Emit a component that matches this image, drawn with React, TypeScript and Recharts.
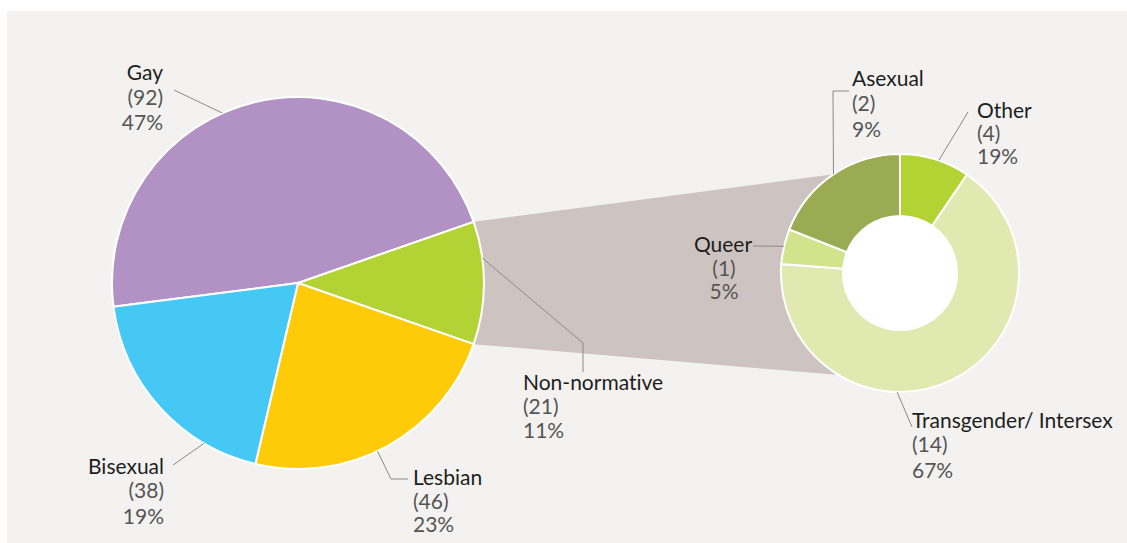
import React from "react";
import { PieChart, Pie, Cell } from "recharts";

// ---- Data ----
const mainCategories = ["Gay", "Non-normative", "Lesbian", "Bisexual"];
const mainValues = [92, 21, 46, 38];
const mainPercents = ["47%", "11%", "23%", "19%"];
const mainColors = ["#b292c4", "#b3d335", "#fecb08", "#46c8f5"];

const subCategories = ["Other", "Transgender/ Intersex", "Queer", "Asexual"];
// slice sizes as drawn in the reference
const subSliceValues = [2, 14, 1, 4];
// counts and percentages as printed on the labels
const subLabelCounts = [4, 14, 1, 2];
const subPercents = ["19%", "67%", "5%", "9%"];
const subColors = ["#b3d335", "#dfe9b0", "#d3e28d", "#9bab53"];

const mainData = mainCategories.map((name, i) => ({ name, value: mainValues[i] }));
const subData = subCategories.map((name, i) => ({ name, value: subSliceValues[i] }));

// ---- Layout ----
const W = 1127;
const H = 543;
const PIE = { cx: 298, cy: 283, r: 186 };
const DONUT = { cx: 900, cy: 273, r: 119, ir: 57 };
const FONT = "Lato, 'Noto Sans', sans-serif";
const FS = 21;
const TEXT_STYLE = { fontVariantLigatures: "none" } as React.CSSProperties;

type LabelLayout = {
  edgeAngle: number;
  via: [number, number][];
  x: number;
  ys: [number, number, number];
  anchor: "start" | "middle" | "end";
};

const mainLabelLayout: LabelLayout[] = [
  { edgeAngle: 114, via: [[174, 90]], x: 163, ys: [80, 105, 130], anchor: "end" },
  { edgeAngle: 7.7, via: [[583, 343], [583, 372]], x: 523, ys: [390, 414, 438], anchor: "start" },
  { edgeAngle: -64.7, via: [[391, 479], [408, 479]], x: 413, ys: [485, 509, 532], anchor: "start" },
  { edgeAngle: -120.4, via: [[173, 465]], x: 164, ys: [474, 498, 524], anchor: "end" },
];

const subLabelLayout: LabelLayout[] = [
  { edgeAngle: 71, via: [[968, 112]], x: 977, ys: [118, 141, 164], anchor: "start" },
  { edgeAngle: -91.4, via: [[912, 427]], x: 912, ys: [428, 452, 478], anchor: "start" },
  { edgeAngle: 167, via: [[753, 246]], x: 724, ys: [252, 276, 299], anchor: "middle" },
  { edgeAngle: 124, via: [[833, 91], [849, 91]], x: 852, ys: [86, 111, 137], anchor: "start" },
];

const RAD = Math.PI / 180;
const polar = (cx: number, cy: number, r: number, a: number): [number, number] => [
  cx + r * Math.cos(a * RAD),
  cy - r * Math.sin(a * RAD),
];

function makeLabel(
  layouts: LabelLayout[],
  names: string[],
  counts: (number | string)[],
  pcts: string[],
  nameX?: number[]
) {
  return (props: any) => {
    const { index, cx, cy, outerRadius } = props;
    const L = layouts[index];
    const start = polar(Number(cx), Number(cy), Number(outerRadius), L.edgeAngle);
    const pts = [start, ...L.via].map((p) => p.join(",")).join(" ");
    const nx = nameX && nameX[index] != null ? nameX[index] : L.x;
    return (
      <g key={`lbl-${index}`}>
        <polyline points={pts} fill="none" stroke="#8a8a8a" strokeWidth={1} />
        <text x={nx} y={L.ys[0]} textAnchor={L.anchor} fontFamily={FONT} fontSize={FS} fill="#1e1e1e" style={TEXT_STYLE}>
          {names[index]}
        </text>
        <text x={L.x} y={L.ys[1]} textAnchor={L.anchor} fontFamily={FONT} fontSize={FS} fill="#555555" style={TEXT_STYLE}>
          {`(${counts[index]})`}
        </text>
        <text x={L.x} y={L.ys[2]} textAnchor={L.anchor} fontFamily={FONT} fontSize={FS} fill="#555555" style={TEXT_STYLE}>
          {pcts[index]}
        </text>
      </g>
    );
  };
}

// connector wedge between the Non-normative slice and the donut
const mainTotal = mainValues.reduce((a, b) => a + b, 0);
const mainStart = 187.31;
const nnStart = mainStart - (mainValues[0] / mainTotal) * 360;
const nnEnd = nnStart - (mainValues[1] / mainTotal) * 360;
const c1 = polar(PIE.cx, PIE.cy, PIE.r, nnStart);
const c2 = polar(DONUT.cx, DONUT.cy, DONUT.r, 124);
const c3 = polar(DONUT.cx, DONUT.cy, DONUT.r, -121);
const c4 = polar(PIE.cx, PIE.cy, PIE.r, nnEnd);
const connector = [c1, c2, [DONUT.cx, DONUT.cy], c3, c4].map((p) => p.join(",")).join(" ");

export default function App() {
  return (
    <div style={{ position: "absolute", left: 0, top: 0, width: W, height: H, background: "#ffffff" }}>
      <svg width={W} height={H} style={{ position: "absolute", left: 0, top: 0 }}>
        <rect x={7} y={11} width={W - 7} height={H - 11} fill="#f3f2f0" />
        <polygon points={connector} fill="#cdc4c1" />
        <circle cx={DONUT.cx} cy={DONUT.cy} r={DONUT.ir} fill="#ffffff" />
      </svg>
      <div style={{ position: "absolute", left: 0, top: 0 }}>
        <PieChart width={W} height={H} margin={{ top: 0, right: 0, bottom: 0, left: 0 }}>
          <Pie
            data={mainData}
            dataKey="value"
            nameKey="name"
            cx={PIE.cx}
            cy={PIE.cy}
            outerRadius={PIE.r}
            startAngle={mainStart}
            endAngle={mainStart - 360}
            stroke="#ffffff"
            strokeWidth={2}
            isAnimationActive={false}
            labelLine={false}
            label={makeLabel(mainLabelLayout, mainCategories, mainValues, mainPercents)}
          >
            {mainData.map((d, i) => (
              <Cell key={d.name} fill={mainColors[i]} />
            ))}
          </Pie>
          <Pie
            data={subData}
            dataKey="value"
            nameKey="name"
            cx={DONUT.cx}
            cy={DONUT.cy}
            innerRadius={DONUT.ir}
            outerRadius={DONUT.r}
            startAngle={90}
            endAngle={-270}
            stroke="#ffffff"
            strokeWidth={2}
            isAnimationActive={false}
            labelLine={false}
            label={makeLabel(subLabelLayout, subCategories, subLabelCounts, subPercents, [977, 912, 723, 852])}
          >
            {subData.map((d, i) => (
              <Cell key={d.name} fill={subColors[i]} />
            ))}
          </Pie>
        </PieChart>
      </div>
    </div>
  );
}
